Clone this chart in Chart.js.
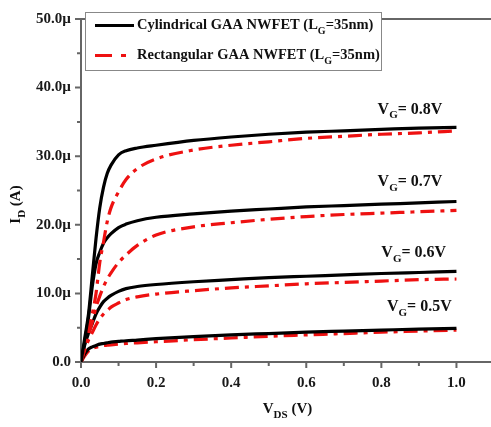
<!DOCTYPE html>
<html>
<head>
<meta charset="utf-8">
<script src="https://cdn.jsdelivr.net/npm/chart.js@4.4.0/dist/chart.umd.min.js"></script>
<style>
  html, body { margin: 0; padding: 0; background: #fff; }
  #wrap { width: 491px; height: 427px; overflow: hidden; }
</style>
</head>
<body>
<div id="wrap"><canvas id="chart" width="496" height="427"></canvas></div>
<script>
// V_DS sweep (V)
const vds = [0, 0.01, 0.02, 0.03, 0.04, 0.05, 0.06, 0.07, 0.08, 0.1, 0.12, 0.15, 0.2, 0.3, 0.4, 0.5, 0.6, 0.7, 0.8, 0.9, 1.0];

// I_D in µA, cylindrical (solid black)
const cyl08 = [0, 3.5, 7, 12.5, 18, 22.5, 25.5, 27.5, 28.7, 30.2, 30.8, 31.2, 31.6, 32.3, 32.8, 33.2, 33.5, 33.7, 33.9, 34.1, 34.2];
const cyl07 = [0, 3, 6.5, 11, 14.3, 16, 17.3, 18.1, 18.7, 19.6, 20.1, 20.6, 21.1, 21.6, 22, 22.3, 22.6, 22.8, 23.0, 23.2, 23.4];
const cyl06 = [0, 2.5, 4.2, 5.6, 7, 8, 8.8, 9.3, 9.7, 10.3, 10.7, 11, 11.3, 11.7, 12, 12.3, 12.5, 12.7, 12.9, 13.05, 13.2];
const cyl05 = [0, 1.2, 1.9, 2.2, 2.4, 2.6, 2.7, 2.8, 2.9, 3.0, 3.1, 3.2, 3.4, 3.7, 3.95, 4.15, 4.35, 4.5, 4.65, 4.8, 4.9];

// I_D in µA, rectangular (red dash-dot)
const rect08 = [0, 2.5, 5, 7, 10, 14.5, 17.5, 20.5, 22.5, 24.8, 26.6, 28.2, 29.6, 30.9, 31.6, 32.1, 32.6, 32.9, 33.2, 33.4, 33.7];
const rect07 = [0, 2, 4, 5.8, 8, 9.6, 11, 12.1, 13, 14.5, 15.6, 17, 18.5, 19.7, 20.3, 20.8, 21.2, 21.5, 21.7, 21.9, 22.1];
const rect06 = [0, 1.8, 3.2, 4.3, 5.4, 6.3, 7, 7.5, 8, 8.6, 9.1, 9.5, 9.9, 10.4, 10.8, 11.1, 11.4, 11.6, 11.8, 12.0, 12.1];
const rect05 = [0, 0.9, 1.6, 2.0, 2.15, 2.3, 2.4, 2.45, 2.5, 2.6, 2.7, 2.8, 2.95, 3.25, 3.5, 3.75, 3.95, 4.15, 4.35, 4.5, 4.65];

// axis ticks
const xMajorTicks = [0, 0.2, 0.4, 0.6, 0.8, 1.0];
const xTickLabels = ["0.0", "0.2", "0.4", "0.6", "0.8", "1.0"];
const xMinorTicks = [0.1, 0.3, 0.5, 0.7, 0.9];
const yMajorTicks = [0, 10, 20, 30, 40, 50];
const yTickLabels = ["0.0", "10.0µ", "20.0µ", "30.0µ", "40.0µ", "50.0µ"];
const yMinorTicks = [5, 15, 25, 35, 45];

// gate voltage labels, placed in data coords
const vgLabels = ["0.8V", "0.7V", "0.6V", "0.5V"];
const vgLabelX = [0.79, 0.79, 0.80, 0.815];
const vgLabelY = [36.8, 26.2, 15.9, 8.0];

const legendNames = ["Cylindrical GAA NWFET (L", "Rectangular GAA NWFET (L"];

const SERIF = "'Liberation Serif', 'Times New Roman', serif";
const RED = "#ee1111";
const AXIS = "#666666";
const DASHDOT = [14, 6, 4, 6];

const pts = (arr) => vds.map((x, i) => ({x: x, y: arr[i]}));

const solid = (arr) => ({
  data: pts(arr), borderColor: "#000", borderWidth: 3.2,
  pointRadius: 0, fill: false, cubicInterpolationMode: "monotone",
});
const dashed = (arr) => ({
  data: pts(arr), borderColor: RED, borderWidth: 3.2, borderDash: DASHDOT,
  pointRadius: 0, fill: false, cubicInterpolationMode: "monotone",
});

// text with subscripts: parts = [[text, isSub], ...]
function subText(ctx, parts, size) {
  let w = 0;
  parts.forEach(([t, s]) => {
    ctx.font = "bold " + (s ? Math.round(size * 0.7) : size) + "px " + SERIF;
    w += ctx.measureText(t).width;
  });
  return w;
}
function drawSub(ctx, parts, x, y, size) {
  ctx.textBaseline = "middle";
  ctx.textAlign = "left";
  parts.forEach(([t, s]) => {
    ctx.font = "bold " + (s ? Math.round(size * 0.7) : size) + "px " + SERIF;
    ctx.fillText(t, x, s ? y + size * 0.38 : y);
    x += ctx.measureText(t).width;
  });
}

const decor = {
  id: "decor",
  beforeDatasetsDraw(chart) {
    const {ctx, chartArea: a} = chart;
    ctx.save();
    ctx.strokeStyle = AXIS;
    ctx.lineWidth = 2;
    ctx.strokeRect(a.left, a.top, a.right - a.left, a.bottom - a.top);
    const xs = chart.scales.x, ys = chart.scales.y;
    ctx.beginPath();
    xMajorTicks.forEach(v => { const p = xs.getPixelForValue(v); ctx.moveTo(p, a.bottom); ctx.lineTo(p, a.bottom + 6); });
    xMinorTicks.forEach(v => { const p = xs.getPixelForValue(v); ctx.moveTo(p, a.bottom); ctx.lineTo(p, a.bottom + 4); });
    yMajorTicks.forEach(v => { const p = ys.getPixelForValue(v); ctx.moveTo(a.left, p); ctx.lineTo(a.left - 6, p); });
    yMinorTicks.forEach(v => { const p = ys.getPixelForValue(v); ctx.moveTo(a.left, p); ctx.lineTo(a.left - 4, p); });
    ctx.stroke();
    ctx.restore();
  },
  afterDraw(chart) {
    const {ctx, chartArea: a} = chart;
    const xs = chart.scales.x, ys = chart.scales.y;
    ctx.save();
    ctx.fillStyle = "#111";

    // V_G labels
    vgLabels.forEach((t, i) => {
      drawSub(ctx, [["V", 0], ["G", 1], ["= " + t, 0]], xs.getPixelForValue(vgLabelX[i]), ys.getPixelForValue(vgLabelY[i]), 16);
    });

    // axis titles
    const xt = [["V", 0], ["DS", 1], [" (V)", 0]];
    drawSub(ctx, xt, (a.left + a.right) / 2 - subText(ctx, xt, 15) / 2, 409, 15);
    const yt = [["I", 0], ["D", 1], [" (A)", 0]];
    ctx.translate(16, (a.top + a.bottom) / 2 + 14);
    ctx.rotate(-Math.PI / 2);
    drawSub(ctx, yt, -subText(ctx, yt, 15) / 2, 0, 15);
    ctx.restore();

    // legend box
    ctx.save();
    ctx.strokeStyle = "#888";
    ctx.lineWidth = 1;
    ctx.fillStyle = "#fff";
    ctx.fillRect(85.5, 12.5, 296, 58);
    ctx.strokeRect(85.5, 12.5, 296, 58);
    const rowY = [25.5, 55.5];
    ctx.lineWidth = 3.2;
    ctx.strokeStyle = "#000";
    ctx.beginPath(); ctx.moveTo(95, rowY[0]); ctx.lineTo(134, rowY[0]); ctx.stroke();
    ctx.strokeStyle = RED;
    ctx.setLineDash([17, 9, 5, 9]);
    ctx.beginPath(); ctx.moveTo(95, rowY[1]); ctx.lineTo(134, rowY[1]); ctx.stroke();
    ctx.setLineDash([]);
    ctx.fillStyle = "#111";
    legendNames.forEach((t, i) => {
      drawSub(ctx, [[t, 0], ["G", 1], ["=35nm)", 0]], 137, rowY[i], 14.5);
    });
    ctx.restore();
  },
};

new Chart(document.getElementById("chart").getContext("2d"), {
  type: "line",
  data: {
    datasets: [solid(cyl08), dashed(rect08), solid(cyl07), dashed(rect07),
               solid(cyl06), dashed(rect06), solid(cyl05), dashed(rect05)],
  },
  options: {
    responsive: false,
    animation: false,
    devicePixelRatio: 1,
    layout: {padding: {top: 9, right: 2, left: 0, bottom: 0}},
    plugins: {legend: {display: false}, tooltip: {enabled: false}},
    scales: {
      x: {
        type: "linear", min: 0, max: 1.1,
        afterBuildTicks: (s) => { s.ticks = xMajorTicks.map(v => ({value: v})); },
        afterFit: (s) => { s.height = 65; },
        grid: {display: false, drawTicks: false},
        border: {display: false},
        ticks: {
          autoSkip: false, maxRotation: 0, padding: 12, color: "#1a1a1a",
          font: {family: SERIF, size: 15, weight: "bold"},
          callback: (v, i) => xTickLabels[i],
        },
      },
      y: {
        type: "linear", min: 0, max: 50,
        afterBuildTicks: (s) => { s.ticks = yMajorTicks.map(v => ({value: v})); },
        afterFit: (s) => { s.width = 81; },
        grid: {display: false, drawTicks: false},
        border: {display: false},
        ticks: {
          autoSkip: false, padding: 10, color: "#1a1a1a",
          font: {family: SERIF, size: 15, weight: "bold"},
          callback: (v, i) => yTickLabels[i],
        },
      },
    },
  },
  plugins: [decor],
});
</script>
</body>
</html>
